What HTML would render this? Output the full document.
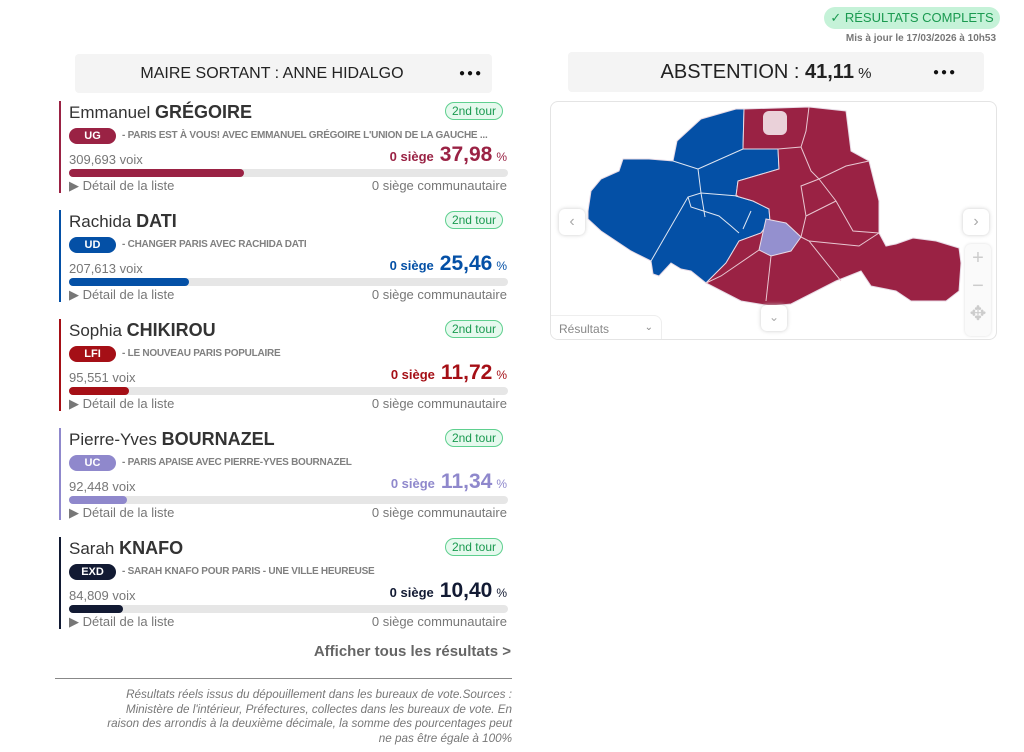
<!DOCTYPE html>
<html><head><meta charset="utf-8">
<style>
*{box-sizing:border-box;margin:0;padding:0}
body{width:1024px;height:752px;background:#fff;font-family:"Liberation Sans",sans-serif;position:relative;overflow:hidden;color:#2a2f36}
.abs{position:absolute}
.hdr{background:#f4f4f4;border-radius:4px}
.card{position:absolute;left:59px;width:452px;height:92px;border-left:2px solid}
.name{position:absolute;left:8px;top:1px;font-size:17px;color:#333;white-space:nowrap}
.name b{font-size:18px}
.tour{position:absolute;right:8px;top:1px;font-size:12px;color:#1a9a50;border:1.5px solid #5fd08f;background:#e6f9ee;border-radius:9px;padding:1px 6px}
.badge{position:absolute;left:8px;top:27px;width:47px;height:16px;border-radius:8px;color:#fff;font-size:11px;font-weight:bold;text-align:center;line-height:16px}
.list{position:absolute;left:61px;top:29px;font-size:10px;color:#808080;white-space:nowrap;font-weight:bold;letter-spacing:-0.25px}
.voix{position:absolute;left:8px;top:51px;font-size:13px;color:#777}
.pct{position:absolute;right:4px;top:42px;white-space:nowrap;font-weight:bold;font-size:13px}
.pct span.big{font-size:21px;margin-left:6px}
.pct span.u{font-size:12px;font-weight:normal;margin-left:4px}
.barbg{position:absolute;left:8px;top:68px;width:439px;height:8px;border-radius:4px;background:#e6e6e6}
.bar{position:absolute;left:0;top:0;height:8px;border-radius:4px}
.det{position:absolute;left:8px;top:77px;font-size:13px;color:#777}
.comm{position:absolute;right:4px;top:77px;font-size:13px;color:#777}
.dots{font-size:10px;letter-spacing:2px;color:#111}
</style></head><body>
<div class="abs" style="left:824px;top:7px;width:176px;height:22px;border-radius:11px;background:#c5f2d8;color:#1a9a50;font-size:13px;line-height:22px;text-align:center">✓ RÉSULTATS COMPLETS</div>
<div class="abs" style="left:800px;top:33px;width:196px;text-align:right;font-size:10px;color:#777;font-weight:bold">Mis à jour le 17/03/2026 à 10h53</div>

<div class="abs hdr" style="left:75px;top:54px;width:417px;height:39px"></div>
<div class="abs" style="left:75px;top:65px;width:394px;text-align:center;font-size:16px;color:#222">MAIRE SORTANT : ANNE HIDALGO</div>
<div class="abs dots" style="left:459px;top:68px">●●●</div>

<div class="abs hdr" style="left:568px;top:52px;width:416px;height:40px"></div>
<div class="abs" style="left:568px;top:61px;width:396px;text-align:center;font-size:20px;color:#222">ABSTENTION : <b>41,11</b><span style="font-size:15px"> %</span></div>
<div class="abs dots" style="left:933px;top:67px">●●●</div>

<div id="cards"></div>

<div class="abs" style="left:250px;top:643px;width:261px;text-align:right;font-size:15px;font-weight:bold;color:#666">Afficher tous les résultats &gt;</div>
<div class="abs" style="left:55px;top:678px;width:457px;height:1px;background:#888"></div>
<div class="abs" style="left:55px;top:688px;width:457px;text-align:right;font-size:11.7px;font-style:italic;color:#777;line-height:14.5px">Résultats réels issus du dépouillement dans les bureaux de vote.Sources :<br>Ministère de l'intérieur, Préfectures, collectes dans les bureaux de vote. En<br>raison des arrondis à la deuxième décimale, la somme des pourcentages peut<br>ne pas être égale à 100%</div>

<div class="abs" style="left:550px;top:101px;width:447px;height:239px;border:1px solid #e4e4e4;border-radius:8px;overflow:hidden">
<svg width="447" height="239" viewBox="550 101 447 239">
<g stroke="#e8dbe6" stroke-width="1">
<polygon fill="#0450a6" points="587,210 590,190 600,178 618,170 622,158 648,158 672,160 676,140 700,118 735,108 743,108 742,148 777,148 778,168 737,180 735,195 752,200 768,208 769,220 760,232 738,240 725,262 705,282 690,270 680,268 670,262 658,275 652,273 650,260 630,250 600,230 587,218"/>
<polygon fill="#9a2244" points="743,108 808,106 845,110 850,150 868,160 878,200 878,232 885,245 895,243 912,237 935,240 958,247 960,262 958,290 945,300 910,300 895,290 870,285 860,270 835,280 790,303 770,305 740,300 705,282 725,262 738,240 760,232 769,220 768,208 752,200 735,195 737,180 778,168 777,148 742,148"/>
<polygon fill="#9490cf" points="765,218 785,222 800,236 790,250 770,255 758,249"/>
</g>
<g stroke="#dfe6f2" stroke-width="1" fill="none">
<polyline points="672,160 697,168 700,192 687,196 650,260"/>
<polyline points="697,168 742,148"/>
<polyline points="700,192 737,195"/>
<polyline points="687,196 690,206 718,215 730,225 738,232"/>
<polyline points="750,210 742,228"/>
<polyline points="700,192 704,216"/>
</g>
<g stroke="#e8c7d2" stroke-width="1" fill="none">
<polyline points="808,106 805,130 800,146 777,148"/>
<polyline points="800,146 810,170 818,178 845,165 868,160"/>
<polyline points="818,178 800,185 805,215 800,236"/>
<polyline points="818,178 835,200 852,230 878,232"/>
<polyline points="805,215 835,200"/>
<polyline points="800,236 808,240 840,280"/>
<polyline points="808,240 858,245 878,232"/>
<polyline points="770,255 765,300"/>
<polyline points="758,249 720,275 705,282"/>
</g>
<rect x="762" y="110" width="24" height="24" rx="6" fill="#f3e4ea" opacity="0.9"/>
</svg>
<div class="abs" style="left:8px;top:107px;width:26px;height:26px;border-radius:6px;background:#fff;box-shadow:0 0 4px #ccc;text-align:center;line-height:26px;color:#aaa;font-size:16px">‹</div>
<div class="abs" style="left:412px;top:107px;width:26px;height:26px;border-radius:6px;background:#fff;box-shadow:0 0 4px #ccc;text-align:center;line-height:26px;color:#aaa;font-size:16px">›</div>
<div class="abs" style="left:210px;top:203px;width:26px;height:26px;border-radius:6px;background:#fff;box-shadow:0 0 4px #ccc;text-align:center;line-height:24px;color:#aaa;font-size:12px">⌄</div>
<div class="abs" style="left:414px;top:142px;width:26px;height:92px;border-radius:6px;background:#fafafa;box-shadow:0 0 3px #ddd;color:#ccc;text-align:center;font-size:20px;line-height:28px">+<br>−<br>✥</div>
<div class="abs" style="left:0;top:213px;width:111px;height:26px;border-top:1px solid #eee;border-right:1px solid #eee;border-radius:0 8px 0 0;background:#fff;font-size:12px;color:#888;padding:6px 8px">Résultats<span style="float:right;font-size:10px">⌄</span></div>
</div>

<script>
const names=["Emmanuel","Rachida","Sophia","Pierre-Yves","Sarah"];
const surnames=["GRÉGOIRE","DATI","CHIKIROU","BOURNAZEL","KNAFO"];
const parties=["UG","UD","LFI","UC","EXD"];
const lists=["PARIS EST À VOUS! AVEC EMMANUEL GRÉGOIRE L'UNION DE LA GAUCHE ...","CHANGER PARIS AVEC RACHIDA DATI","LE NOUVEAU PARIS POPULAIRE","PARIS APAISE AVEC PIERRE-YVES BOURNAZEL","SARAH KNAFO POUR PARIS - UNE VILLE HEUREUSE"];
const votes=["309,693","207,613","95,551","92,448","84,809"];
const percents=[37.98,25.46,11.72,11.34,10.40];
const colors=["#9a2244","#0450a6","#a50f16","#8f88cc","#121a33"];
const root=document.getElementById('cards');
const barW=p=>4.39*p+8.3;
percents.forEach((p,i)=>{
  const c=document.createElement('div');
  c.className='card';
  
  
  c.style.top=(101+i*109)+'px';
  c.style.borderLeftColor=colors[i];
  const pc=colors[i];
  c.innerHTML=`<div class="name">${names[i]} <b>${surnames[i]}</b></div>
<div class="tour">2nd tour</div>
<div class="badge" style="background:${pc}">${parties[i]}</div>
<div class="list">- ${lists[i]}</div>
<div class="voix">${votes[i]} voix</div>
<div class="pct" style="color:${pc}">0 siège<span class="big">${p.toFixed(2).replace('.',',')}</span><span class="u">%</span></div>
<div class="barbg"><div class="bar" style="width:${barW(p)}px;background:${pc}"></div></div>
<div class="det">▶ Détail de la liste</div>
<div class="comm">0 siège communautaire</div>`;
  root.appendChild(c);
});
</script>
</body></html>
